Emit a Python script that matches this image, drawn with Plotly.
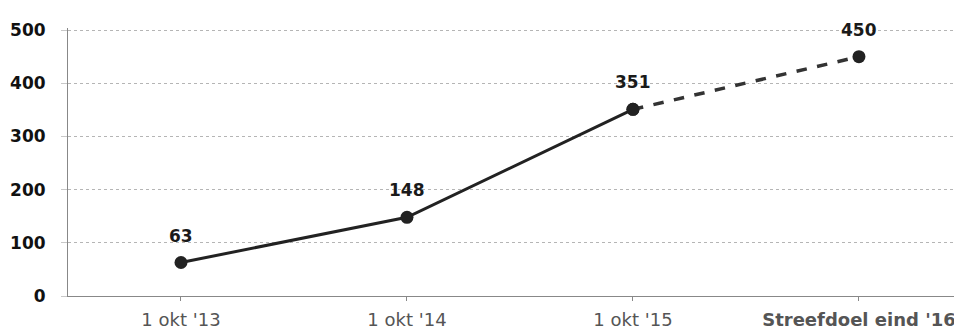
import plotly.graph_objects as go

categories = ["1 okt '13", "1 okt '14", "1 okt '15", "Streefdoel eind '16"]
values = [63, 148, 351, 450]
tick_text = ["1 okt '13", "1 okt '14", "1 okt '15", "<b>Streefdoel eind '16</b>"]
y_ticks = [0, 100, 200, 300, 400, 500]

xs = list(range(len(categories)))

fig = go.Figure()
# actual (solid)
fig.add_trace(go.Scatter(
    x=xs[:3], y=values[:3], mode="lines+markers",
    line=dict(color="#222222", width=3),
    marker=dict(size=13, color="#222222"),
    hoverinfo="skip", showlegend=False,
))
# target (dashed)
fig.add_trace(go.Scatter(
    x=xs[2:], y=values[2:], mode="lines+markers",
    line=dict(color="#333333", width=3.5, dash="dash"),
    marker=dict(size=13, color="#222222"),
    hoverinfo="skip", showlegend=False,
))

for x, v in zip(xs, values):
    fig.add_annotation(
        x=x, y=v, text=f"<b>{v}</b>", showarrow=False, yshift=27,
        font=dict(family="DejaVu Sans", size=17, color="#1a1a1a"),
    )

# page body has an 8px margin, so the figure is 8px smaller and offset
fig.update_layout(
    width=954, height=321,
    margin=dict(l=60, r=0, t=20, b=33, autoexpand=False),
    paper_bgcolor="white", plot_bgcolor="white",
    font=dict(family="DejaVu Sans", size=15, color="#222222"),
)
fig.update_xaxes(
    tickmode="array", tickvals=xs, ticktext=tick_text,
    range=[-0.5, 3.456], automargin=False,
    showgrid=False, showline=True, linecolor="#888888", linewidth=1,
    ticks="outside", tickson="boundaries", ticklen=4, tickcolor="#888888",
    ticklabelstandoff=3,
    tickfont=dict(family="DejaVu Sans", size=18, color="#555555"),
    zeroline=False,
)
fig.update_yaxes(
    range=[0, 504], tickmode="array", tickvals=y_ticks,
    ticktext=[f"<b>{t}</b>" for t in y_ticks],
    automargin=False,
    showgrid=True, gridcolor="#b5b5b5", griddash="dot", gridwidth=1,
    showline=True, linecolor="#888888", linewidth=1,
    ticks="outside", ticklen=6, tickcolor="#c8c8c8",
    ticklabelstandoff=12,
    tickfont=dict(family="DejaVu Sans", size=17, color="#111111"),
    zeroline=False,
)

fig.write_html("out.html")
